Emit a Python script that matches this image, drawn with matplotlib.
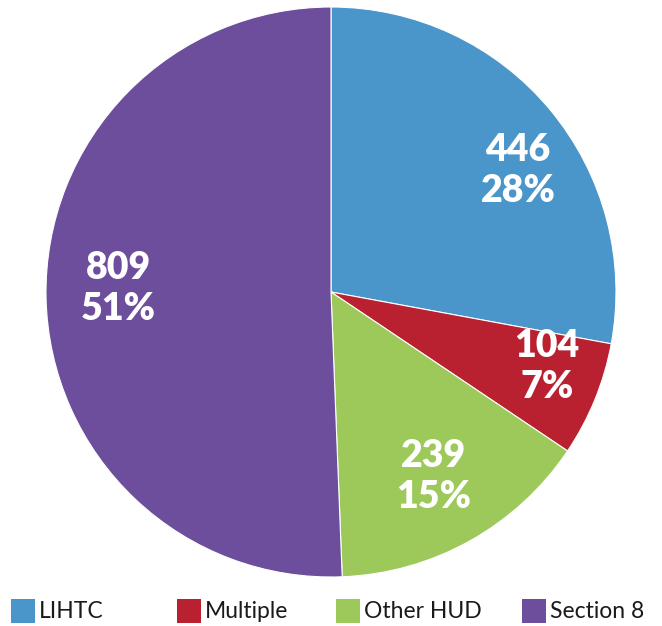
import matplotlib.pyplot as plt
from matplotlib.patches import Rectangle

# data
categories = ['LIHTC', 'Multiple', 'Other HUD', 'Section 8']
counts = [446, 104, 239, 809]
colors = ['#4A96CB', '#BA2130', '#9DC85A', '#6C4E9C']

# label positions inside the pie (axes data units, radius = 1)
label_pos = [(0.656, 0.425), (0.758, -0.26), (0.361, -0.646), (-0.747, 0.014)]
# legend square left edges (pixels)
legend_x = [11, 177, 336, 522]

W, H = 662, 626
fig = plt.figure(figsize=(W / 100, H / 100), dpi=100)

cx, cy, r = 331, 292, 285
ax = fig.add_axes([(cx - r) / W, (H - cy - r) / H, 2 * r / W, 2 * r / H])
ax.pie(counts, colors=colors, startangle=90, counterclock=False, radius=1,
       wedgeprops=dict(edgecolor='white', linewidth=0.8))
ax.set_xlim(-1.0, 1.0)
ax.set_ylim(-1.0, 1.0)
ax.set_aspect('equal')
ax.axis('off')

total = sum(counts)
for (x, y), n in zip(label_pos, counts):
    pct = round(n / total * 100)
    ax.text(x, y, f"{n}\n{pct}%", ha='center', va='center', color='white',
            fontsize=27, fontweight='heavy', family=['Lato', 'DejaVu Sans'],
            linespacing=1.25)

# legend
for lx, name, c in zip(legend_x, categories, colors):
    fig.patches.append(Rectangle((lx / W, (H - 623) / H), 24 / W, 24 / H,
                                 transform=fig.transFigure, facecolor=c,
                                 edgecolor='none'))
    fig.text((lx + 28) / W, (H - 611) / H, name, ha='left', va='center',
             fontsize=16.5, color='#1a1a1a', family=['Lato', 'DejaVu Sans'])

fig.savefig('out.png', dpi=100)
